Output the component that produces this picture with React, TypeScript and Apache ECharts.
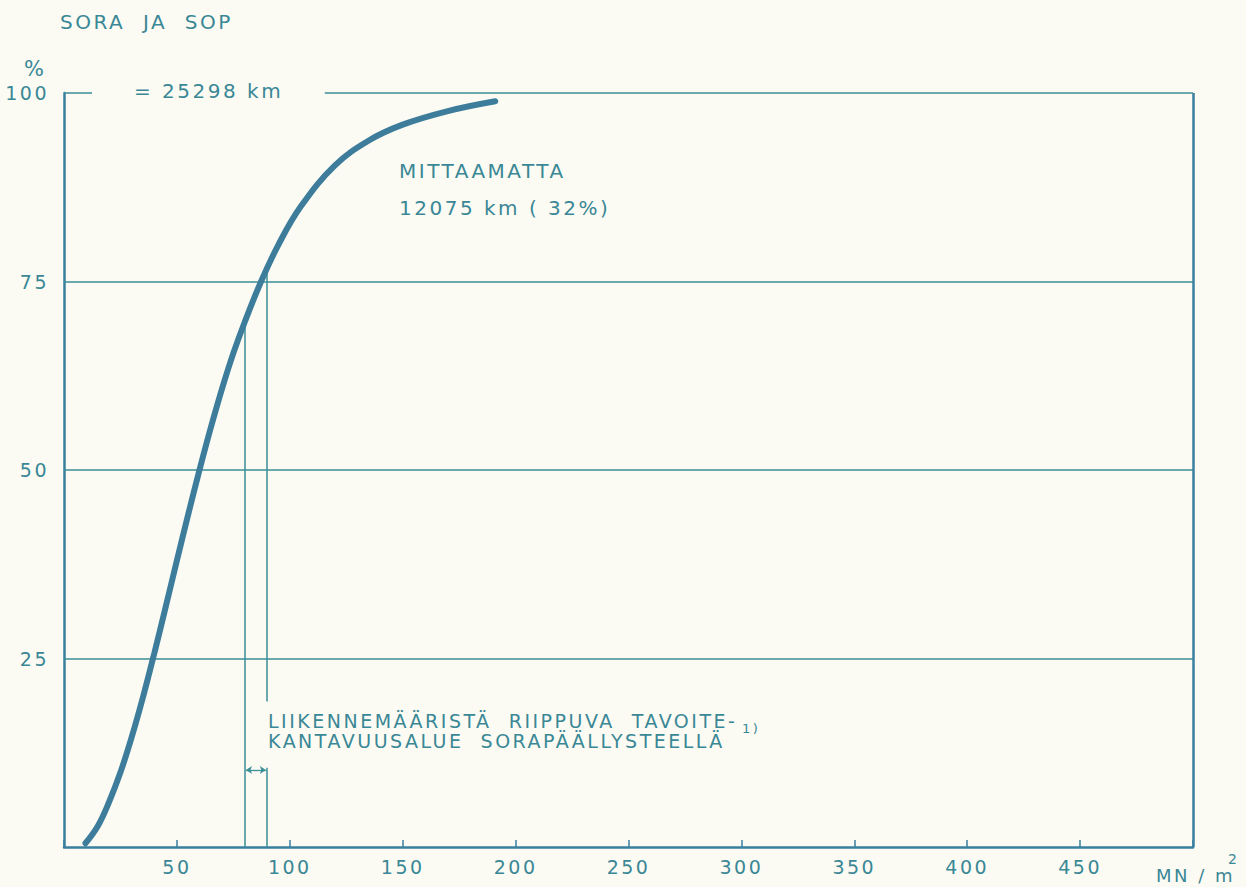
import React, { useEffect, useRef } from "react";
import * as echarts from "echarts";

const curveX = [9.5, 15, 20, 25, 30, 35, 40, 45, 50, 55, 60, 65, 70, 75, 80, 87, 95, 105, 120, 135, 150, 170, 191];
const curveY = [0.5, 2.8, 6.0, 9.9, 14.6, 19.9, 25.7, 31.8, 38.0, 44.1, 50.0, 55.6, 60.8, 65.5, 69.6, 74.8, 79.9, 85.0, 90.4, 93.7, 95.8, 97.6, 98.9];
const gridLevels = [25, 50, 75];
const xTicks = [50, 100, 150, 200, 250, 300, 350, 400, 450];
const rangeLow = 80;
const rangeHigh = 90;

const TEXT = "#3a8796";
const LINE = "#3a8f98";
const AXIS = "#3a7fa0";
const CURVE = "#3d7c9a";
const FONT = "DejaVu Sans";

export default function App() {
  const ref = useRef<HTMLDivElement>(null);
  useEffect(() => {
    if (!ref.current) return;
    const chart = echarts.init(ref.current, null, { renderer: "svg" });
    const seg = (x1: number, y1: number, x2: number, y2: number) => [{ coord: [x1, y1] }, { coord: [x2, y2] }];
    chart.setOption({
      animation: false,
      backgroundColor: "#fbfbf3",
      textStyle: { fontFamily: FONT },
      grid: { left: 64, top: 93, width: 1129, height: 754, containLabel: false },
      xAxis: {
        type: "value",
        min: 0,
        max: 500,
        interval: 50,
        axisLine: { show: true, lineStyle: { color: AXIS, width: 2.5 } },
        axisTick: { show: true, inside: true, length: 7, lineStyle: { color: AXIS, width: 1.5 } },
        splitLine: { show: false },
        axisLabel: {
          color: TEXT,
          fontSize: 19,
          fontFamily: FONT,
          margin: 10,
          formatter: (v: number) => (xTicks.includes(v) ? String(v) : ""),
        },
      },
      yAxis: {
        type: "value",
        min: 0,
        max: 100,
        interval: 25,
        axisLine: { show: true, lineStyle: { color: AXIS, width: 2.5 } },
        axisTick: { show: false },
        splitLine: { show: false },
        axisLabel: {
          color: TEXT,
          fontSize: 19,
          fontFamily: FONT,
          margin: 15,
          formatter: (v: number) => (v === 0 ? "" : String(v)),
        },
      },
      series: [
        {
          type: "line",
          data: curveX.map((x, i) => [x, curveY[i]]),
          smooth: 0.4,
          symbol: "none",
          lineStyle: { color: CURVE, width: 6, cap: "round" },
          z: 5,
          markLine: {
            silent: true,
            symbol: "none",
            label: { show: false },
            lineStyle: { color: LINE, width: 1.5, type: "solid" },
            data: [
              ...gridLevels.map((g) => seg(0, g, 500, g)),
              seg(0, 100, 12.4, 100),
              seg(115.5, 100, 500, 100),
              seg(rangeLow, 0, rangeLow, 69.6),
              seg(rangeHigh, 0, rangeHigh, 10.5),
              seg(rangeHigh, 19.3, rangeHigh, 77),
            ],
          },
        },
        {
          type: "line",
          data: [],
          markLine: {
            silent: true,
            symbol: "none",
            label: { show: false },
            lineStyle: { color: AXIS, width: 2.5, type: "solid" },
            data: [seg(500, 0, 500, 100)],
          },
        },
        {
          type: "line",
          data: [],
          markLine: {
            silent: true,
            symbol: ["arrow", "arrow"],
            symbolSize: [6, 6],
            label: { show: false },
            lineStyle: { color: LINE, width: 1.3, type: "solid" },
            data: [seg(rangeLow + 0.6, 10.2, rangeHigh - 0.6, 10.2)],
          },
        },
      ],
      graphic: [
        { type: "text", left: 60, top: 12, style: { text: "SORA  JA  SOP", fill: TEXT, font: `20px "${FONT}"` } },
        { type: "text", left: 24, top: 58, style: { text: "%", fill: TEXT, font: `21px "${FONT}"` } },
        { type: "text", left: 134, top: 81, style: { text: "= 25298 km", fill: TEXT, font: `20px "${FONT}"` } },
        { type: "text", left: 399, top: 161, style: { text: "MITTAAMATTA", fill: TEXT, font: `20px "${FONT}"` } },
        { type: "text", left: 399, top: 198, style: { text: "12075 km ( 32%)", fill: TEXT, font: `20px "${FONT}"` } },
        { type: "text", left: 268, top: 711, style: { text: "LIIKENNEMÄÄRISTÄ  RIIPPUVA  TAVOITE-", fill: TEXT, font: `19px "${FONT}"` } },
        { type: "text", left: 268, top: 731, style: { text: "KANTAVUUSALUE  SORAPÄÄLLYSTEELLÄ", fill: TEXT, font: `19px "${FONT}"` } },
        { type: "text", left: 742, top: 722, style: { text: "1)", fill: TEXT, font: `13px "${FONT}"` } },
        { type: "text", left: 1156, top: 866, style: { text: "MN / m", fill: TEXT, font: `18px "${FONT}"` } },
        { type: "text", left: 1228, top: 852, style: { text: "2", fill: TEXT, font: `14px "${FONT}"` } },
      ],
    });
    return () => chart.dispose();
  }, []);
  return (
    <div
      ref={ref}
      style={{
        position: "fixed",
        left: 0,
        top: 0,
        width: 1246,
        height: 887,
        background: "#fbfbf3",
        letterSpacing: "2.5px",
      }}
    />
  );
}
